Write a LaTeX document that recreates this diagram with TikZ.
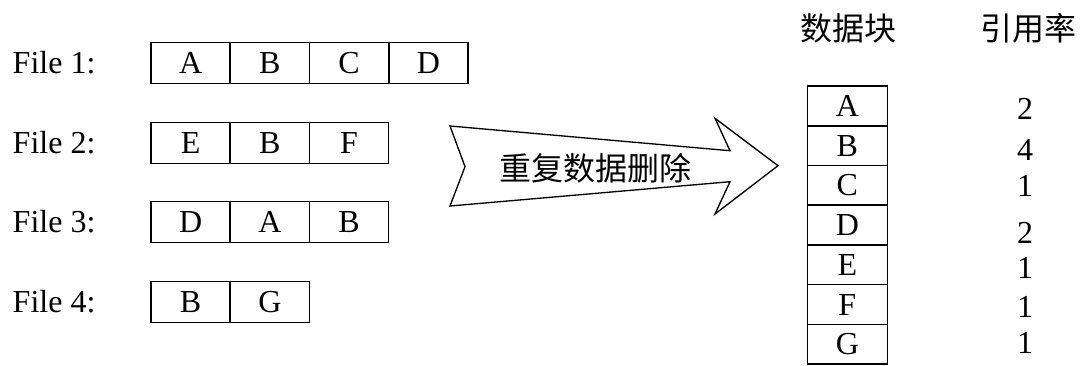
\documentclass[tikz,border=0pt]{standalone}
\usepackage{fontspec}
\setmainfont{Liberation Serif}
\newfontfamily\cjk{Noto Sans CJK SC}
\begin{document}
\begin{tikzpicture}[x=0.75pt,y=-0.75pt,line width=1.1pt,
  txt/.style={font=\fontsize{24}{28}\selectfont},
  cell/.style={draw,txt,minimum width=59.4pt,minimum height=30.6pt,inner sep=0pt,text height=16pt,text depth=0pt},
  rcell/.style={draw,txt,minimum width=60pt,minimum height=29.8pt,inner sep=0pt,text height=16pt,text depth=0pt},
  lbl/.style={txt,anchor=base west,inner sep=0pt},
  num/.style={txt,inner sep=0pt,text height=16pt,text depth=0pt},
  cjktxt/.style={font=\cjk\fontsize{24}{28}\selectfont,inner sep=0pt}]
\useasboundingbox (0,0) rectangle (1082,365);
% file labels
\node[lbl] (f1) at (12,73) {File 1:};
\node[lbl] (f2) at (12,153) {File 2:};
\node[lbl] (f3) at (12,232) {File 3:};
\node[lbl] (f4) at (12,312) {File 4:};
% file rows
\node[cell] (r1a) at (190.6,63) {A};
\node[cell] (r1b) at (269.9,63) {B};
\node[cell] (r1c) at (349.1,63) {C};
\node[cell] (r1d) at (428.4,63) {D};
\node[cell] (r2a) at (190.6,143) {E};
\node[cell] (r2b) at (269.9,143) {B};
\node[cell] (r2c) at (349.1,143) {F};
\node[cell] (r3a) at (190.6,222) {D};
\node[cell] (r3b) at (269.9,222) {A};
\node[cell] (r3c) at (349.1,222) {B};
\node[cell] (r4a) at (190.6,302) {B};
\node[cell] (r4b) at (269.9,302) {G};
% arrow
\draw[line width=1pt] (450,126) -- (730,150.7) -- (715,118.3) -- (778,165.7) -- (715,214) -- (730,181.7) -- (450,206) -- (465,166.7) -- cycle;
\node[cjktxt] (op) at (595,168) {重复数据删除};
% headers
\node[cjktxt] (h1) at (848.7,28) {数据块};
\node[cjktxt] (h2) at (1028,28) {引用率};
% right column
\node[rcell] (cA) at (847.3,105.9) {A};
\node[rcell] (cB) at (847.3,145.6) {B};
\node[rcell] (cC) at (847.3,185.3) {C};
\node[rcell] (cD) at (847.3,225.0) {D};
\node[rcell] (cE) at (847.3,264.7) {E};
\node[rcell] (cF) at (847.3,304.4) {F};
\node[rcell] (cG) at (847.3,344.1) {G};
% counts
\node[num] (nA) at (1025,109) {2};
\node[num] (nB) at (1025,150) {4};
\node[num] (nC) at (1025,186) {1};
\node[num] (nD) at (1025,233) {2};
\node[num] (nE) at (1025,268) {1};
\node[num] (nF) at (1025,307) {1};
\node[num] (nG) at (1025,343) {1};
\end{tikzpicture}
\end{document}
